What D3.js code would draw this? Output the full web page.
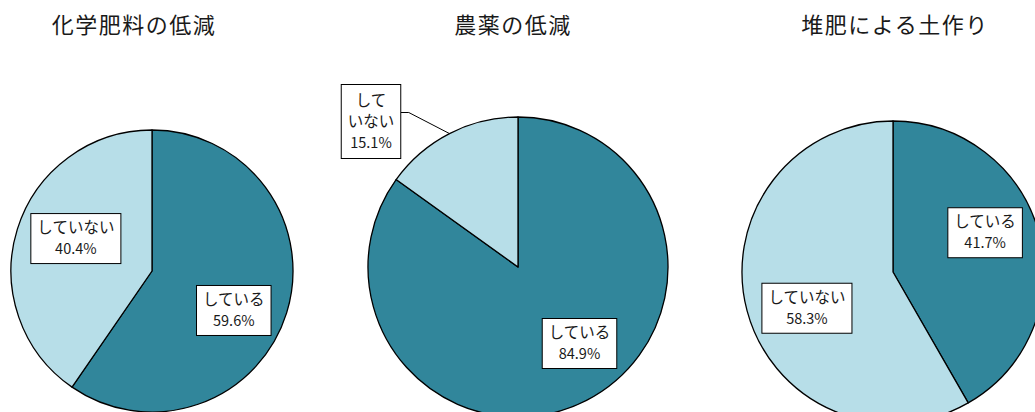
<!DOCTYPE html>
<html>
<head>
<meta charset="utf-8">
<script src="https://cdn.jsdelivr.net/npm/d3@7"></script>
<style>
  body { margin: 0; background: #fff; }
  text { font-family: "Noto Sans CJK JP", "Noto Sans", sans-serif; fill: #1a1a1a; }
</style>
</head>
<body>
<div id="chart"></div>
<script>
// data
const titles = ["化学肥料の低減", "農薬の低減", "堆肥による土作り"];
const categories = ["している", "していない"];
const values = [
    [59.6, 40.4],
    [84.9, 15.1],
    [41.7, 58.3]
];

// layout (position of each pie + where excel placed the labels, as fractions of r)
const layout = [
    {cx: 152, cy: 271, r: 141, tx: 134, labels: [[0.58, 0.28], [-0.54, -0.23]]},
    {cx: 518, cy: 267, r: 150, tx: 513, labels: [[0.41, 0.51], [-0.98, -0.97]]},
    {cx: 893, cy: 272, r: 151, tx: 895, labels: [[0.61, -0.26], [-0.57, 0.24]]}
];

const width = 1035, height = 412;
const color = d3.scaleOrdinal().domain(categories).range(["#31869b", "#b7dee8"]);

const svg = d3.select("#chart").append("svg")
    .attr("width", width)
    .attr("height", height);

const pie = d3.pie().sort(null).value(d => d.value);

values.forEach((vals, i) => {
    const L = layout[i];
    const data = vals.map((v, j) => ({cat: categories[j], value: v}));
    const arcs = pie(data);
    const arc = d3.arc().innerRadius(0).outerRadius(L.r);

    svg.append("text")
        .attr("x", L.tx)
        .attr("y", 33)
        .attr("text-anchor", "middle")
        .style("font-size", "22px")
        .style("letter-spacing", "1.5px")
        .text(titles[i]);

    const g = svg.append("g").attr("transform", "translate(" + L.cx + "," + L.cy + ")");

    g.selectAll("path")
        .data(arcs)
        .enter().append("path")
        .attr("d", arc)
        .style("fill", d => color(d.data.cat))
        .style("stroke", "#000")
        .style("stroke-width", 1.3)
        .style("stroke-linejoin", "round");

    arcs.forEach((a, j) => {
        const pos = L.labels[j];
        const lx = pos[0] * L.r, ly = pos[1] * L.r;
        const outside = Math.hypot(pos[0], pos[1]) > 1;
        // small slice: break the category over two lines like excel does
        const lines = outside
            ? [a.data.cat.slice(0, 2), a.data.cat.slice(2), a.data.value.toFixed(1) + "%"]
            : [a.data.cat, a.data.value.toFixed(1) + "%"];
        const lh = 21;
        const lg = g.append("g");
        const box = lg.append("rect");
        const t = lg.append("text").attr("text-anchor", "middle");
        lines.forEach((s, k) => {
            t.append("tspan")
                .attr("x", lx)
                .attr("y", ly + (k - (lines.length - 1) / 2) * lh + 5)
                .style("font-size", (k == lines.length - 1 ? 14.5 : 15.5) + "px")
                .text(s);
        });
        const bb = t.node().getBBox();
        const bw = bb.width + 13, bh = lines.length * lh + (outside ? 11 : 8);
        box.attr("x", lx - bw / 2)
            .attr("y", ly - bh / 2)
            .attr("width", bw)
            .attr("height", bh)
            .style("fill", "#fff")
            .style("stroke", "#000")
            .style("stroke-width", 1);

        if (outside) {
            const mid = (a.startAngle + a.endAngle) / 2;
            const ex = Math.sin(mid) * L.r, ey = -Math.cos(mid) * L.r;
            const sx = lx + bw / 2, sy = ly - 9;
            lg.insert("path", "rect")
                .attr("d", "M" + sx + "," + sy + "L" + (sx + 8) + "," + sy + "L" + ex + "," + ey)
                .style("fill", "none")
                .style("stroke", "#000")
                .style("stroke-width", 1);
        }
    });
});
</script>
</body>
</html>
